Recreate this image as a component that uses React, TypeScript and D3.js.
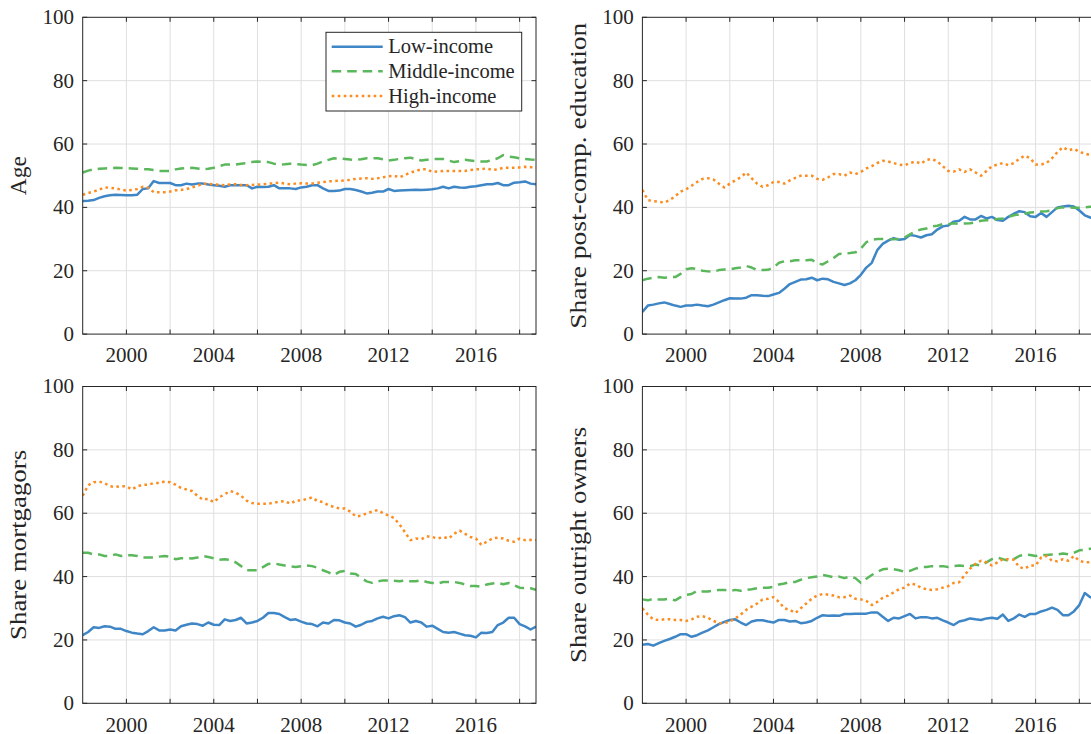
import React from 'react';
import * as d3 from 'd3';

// ---------- data (quarterly, 1998Q1 .. 2018Q4) ----------
const startYear = 1998;
const endYear = 2018.75;

const ageLow = [
  42.0, 42.1, 42.3, 43.0, 43.5, 43.8, 44.0, 43.9, 43.8, 43.8, 44.0, 45.8,
  46.0, 48.3, 47.7, 47.7, 47.7, 47.0, 47.0, 47.5, 47.2, 47.5, 47.5, 47.2,
  47.0, 46.8, 46.5, 47.0, 47.0, 47.0, 47.0, 46.0, 46.5, 46.4, 46.5, 47.0,
  46.0, 46.0, 46.0, 45.8, 46.3, 46.5, 47.0, 47.0, 46.0, 45.2, 45.2, 45.3,
  45.8, 45.8, 45.5, 45.0, 44.4, 44.6, 45.0, 45.0, 45.8, 45.2, 45.3, 45.4,
  45.5, 45.6, 45.5, 45.6, 45.7, 46.0, 46.5, 46.0, 46.5, 46.3, 46.2, 46.5,
  46.7, 47.0, 47.3, 47.3, 47.7, 47.0, 47.0, 47.8, 47.9, 48.2, 47.5, 47.3,
];
const ageMid = [
  51.0, 51.6, 52.0, 52.2, 52.3, 52.4, 52.5, 52.4, 52.4, 52.3, 52.2, 52.0,
  52.0, 51.8, 51.5, 51.5, 51.5, 52.0, 52.3, 52.4, 52.5, 52.3, 52.0, 52.2,
  52.5, 53.0, 53.5, 53.5, 53.5, 53.8, 54.0, 54.3, 54.5, 54.4, 54.3, 53.8,
  53.5, 53.6, 53.8, 53.7, 53.5, 53.4, 53.3, 53.8, 54.5, 55.0, 55.5, 55.4,
  55.3, 55.1, 55.0, 55.2, 55.5, 55.5, 55.5, 55.2, 54.8, 55.0, 55.3, 55.5,
  55.7, 55.2, 54.8, 55.0, 55.3, 55.3, 55.3, 54.8, 54.3, 54.6, 55.0, 54.8,
  54.6, 54.5, 54.5, 55.0, 55.5, 56.5, 56.0, 55.8, 55.5, 55.3, 55.1, 55.0,
];
const ageHigh = [
  44.0, 44.5, 45.0, 45.6, 46.3, 46.2, 46.0, 45.6, 45.3, 45.5, 45.8, 46.5,
  46.2, 44.8, 44.8, 44.8, 45.0, 45.4, 45.5, 45.8, 46.3, 46.8, 47.5, 47.4,
  47.3, 47.1, 47.0, 47.2, 47.3, 47.1, 47.0, 47.1, 47.2, 47.3, 47.5, 47.6,
  47.8, 47.5, 47.3, 47.5, 47.6, 47.5, 47.5, 47.8, 48.0, 48.2, 48.3, 48.4,
  48.5, 48.7, 49.0, 49.1, 49.2, 49.0, 49.2, 49.5, 49.8, 50.0, 49.5, 50.2,
  51.0, 51.5, 52.0, 52.0, 51.2, 51.3, 51.5, 51.5, 51.5, 51.5, 51.5, 51.8,
  52.0, 52.1, 52.3, 51.8, 52.0, 52.5, 52.5, 52.5, 52.6, 52.8, 52.7, 52.7,
];

const eduLow = [
  7.0, 9.0, 9.3, 9.7, 10.0, 9.5, 9.0, 8.6, 9.0, 9.0, 9.3, 9.0,
  8.8, 9.3, 10.0, 10.7, 11.3, 11.2, 11.2, 11.5, 12.3, 12.3, 12.1, 12.0,
  12.5, 13.0, 14.3, 15.8, 16.5, 17.2, 17.3, 17.8, 17.0, 17.5, 17.3, 16.5,
  16.0, 15.5, 16.0, 17.0, 18.7, 21.0, 22.5, 26.5, 28.5, 29.5, 30.3, 29.8,
  30.0, 31.3, 31.0, 30.5, 31.2, 31.5, 33.0, 34.0, 34.3, 35.5, 35.8, 37.0,
  36.2, 36.2, 37.3, 36.5, 37.0, 36.0, 35.8, 37.0, 38.0, 38.8, 38.5, 37.2,
  37.0, 38.2, 37.0, 38.5, 40.0, 40.3, 40.5, 40.3, 39.0, 37.5, 36.8, 36.5,
];
const eduMid = [
  17.0, 17.5, 17.8, 18.0, 17.8, 18.0, 18.0, 19.0, 20.5, 20.8, 20.5, 20.0,
  19.8, 19.7, 20.2, 20.4, 20.4, 20.8, 21.0, 21.5, 21.0, 20.2, 20.2, 20.3,
  21.0, 22.5, 23.0, 23.0, 23.3, 23.3, 23.3, 23.5, 22.3, 22.0, 23.0, 24.0,
  25.3, 25.5, 25.6, 25.8, 27.0, 29.0, 29.8, 30.0, 30.0, 30.0, 29.9, 30.0,
  30.5, 31.5, 32.5, 33.0, 33.3, 34.0, 34.2, 34.7, 34.7, 35.0, 34.8, 34.9,
  35.0, 35.3, 35.8, 35.9, 36.0, 36.3, 36.5, 37.0, 37.5, 37.8, 38.0, 38.4,
  38.5, 38.7, 38.8, 39.0, 39.8, 40.0, 40.0, 39.9, 39.9, 40.0, 40.2, 40.2,
];
const eduHigh = [
  45.5, 42.3, 42.0, 41.8, 41.5, 42.3, 43.5, 45.0, 45.7, 46.8, 48.0, 49.0,
  49.2, 48.8, 47.5, 46.3, 47.5, 48.5, 49.5, 51.0, 49.2, 47.5, 46.5, 47.0,
  48.0, 48.0, 47.5, 48.5, 49.3, 50.0, 50.0, 50.0, 49.0, 48.7, 49.5, 50.5,
  50.5, 50.0, 51.0, 50.5, 51.2, 52.3, 53.0, 54.0, 54.7, 54.5, 54.0, 53.5,
  53.3, 54.0, 54.5, 53.8, 55.0, 55.3, 54.5, 53.0, 51.5, 51.3, 52.0, 51.2,
  52.0, 51.0, 50.0, 51.5, 53.0, 53.5, 54.0, 53.3, 54.0, 55.3, 56.3, 55.5,
  53.5, 53.5, 54.0, 55.5, 57.5, 59.0, 58.0, 58.5, 57.5, 57.0, 56.5, 56.0,
];

const mortLow = [
  21.5, 22.5, 24.0, 23.8, 24.3, 24.2, 23.5, 23.5, 22.8, 22.3, 22.0, 21.8,
  22.8, 24.0, 23.0, 23.0, 23.3, 23.0, 24.3, 24.8, 25.2, 25.0, 24.5, 25.5,
  24.8, 24.7, 26.5, 26.0, 26.3, 27.0, 25.2, 25.5, 26.0, 27.0, 28.5, 28.5,
  28.2, 27.2, 26.3, 26.5, 25.8, 25.2, 25.0, 24.3, 25.5, 25.2, 26.3, 26.2,
  25.5, 25.2, 24.2, 24.8, 25.7, 26.0, 26.8, 27.3, 26.8, 27.5, 27.8, 27.2,
  25.5, 26.0, 25.5, 24.2, 24.5, 23.5, 22.5, 22.3, 22.5, 22.0, 21.5, 21.3,
  20.8, 22.3, 22.2, 22.5, 24.7, 25.5, 27.0, 27.0, 25.0, 24.3, 23.3, 24.2,
];
const mortMid = [
  47.5, 47.5, 47.0, 47.0, 46.5, 46.5, 47.0, 46.5, 46.8, 46.7, 46.5, 46.0,
  46.0, 46.0, 46.3, 46.5, 46.3, 45.5, 45.8, 45.8, 45.7, 46.0, 46.5, 46.2,
  45.8, 45.3, 45.5, 45.3, 44.5, 43.3, 42.0, 42.0, 42.0, 43.0, 44.0, 44.2,
  43.8, 43.5, 43.2, 43.0, 43.3, 43.5, 43.3, 42.8, 42.0, 41.3, 40.5, 41.5,
  41.8, 41.0, 40.8, 39.5, 38.5, 38.0, 38.5, 38.8, 38.8, 38.7, 38.5, 38.8,
  38.5, 38.5, 38.8, 38.3, 38.0, 37.8, 38.3, 38.3, 38.3, 38.0, 37.5, 37.0,
  37.0, 36.8, 37.5, 37.8, 38.0, 37.6, 38.0, 37.3, 36.5, 36.4, 36.3, 35.8,
];
const mortHigh = [
  65.5, 68.8, 69.8, 70.0, 69.5, 68.5, 68.3, 68.5, 68.5, 67.5, 68.5, 69.0,
  69.0, 69.5, 69.5, 70.0, 69.8, 69.0, 68.0, 67.5, 67.0, 65.5, 64.3, 64.5,
  63.5, 65.0, 66.0, 67.0, 66.5, 65.5, 64.0, 63.2, 63.0, 63.0, 63.0, 63.3,
  63.7, 63.8, 63.0, 64.0, 64.0, 64.5, 65.0, 63.8, 63.5, 62.5, 62.0, 61.5,
  61.5, 60.5, 59.0, 59.2, 60.0, 60.5, 61.0, 60.0, 59.3, 58.5, 56.5, 54.0,
  51.5, 52.0, 51.8, 52.7, 52.5, 52.0, 52.5, 52.0, 53.5, 54.5, 53.5, 52.5,
  52.0, 50.0, 51.0, 52.0, 52.3, 52.0, 51.3, 51.0, 52.0, 51.5, 51.6, 51.5,
];

const ownLow = [
  18.5, 18.7, 18.2, 19.0, 19.7, 20.3, 21.0, 21.8, 21.8, 21.0, 21.5, 22.3,
  23.0, 24.0, 25.0, 25.7, 26.3, 26.5, 25.5, 24.7, 25.8, 26.2, 26.2, 25.8,
  25.5, 26.3, 26.3, 25.8, 26.0, 25.3, 25.5, 26.0, 27.0, 27.8, 27.6, 27.7,
  27.6, 28.2, 28.2, 28.3, 28.3, 28.3, 28.7, 28.7, 27.3, 26.0, 27.0, 26.8,
  27.5, 28.2, 26.8, 27.2, 27.2, 26.8, 27.0, 26.2, 25.5, 24.7, 25.8, 26.2,
  26.8, 26.5, 26.3, 26.8, 27.0, 26.7, 28.0, 26.0, 26.8, 28.0, 27.3, 28.2,
  28.2, 29.0, 29.5, 30.2, 29.5, 27.8, 27.8, 29.0, 31.0, 34.8, 33.5, 33.0,
];
const ownMid = [
  32.8, 32.5, 33.0, 32.8, 32.8, 33.0, 32.5, 33.5, 34.2, 34.5, 35.5, 35.3,
  35.3, 35.5, 35.8, 35.8, 35.5, 35.8, 35.5, 35.8, 36.0, 36.3, 36.5, 36.5,
  36.8, 37.5, 37.8, 38.3, 38.3, 39.0, 39.5, 39.8, 40.0, 40.5, 40.2, 39.8,
  40.0, 39.5, 40.0, 39.5, 38.0, 39.3, 40.5, 41.5, 42.3, 42.5, 42.3, 42.0,
  41.5, 41.8, 42.5, 43.0, 43.0, 43.3, 43.3, 43.3, 43.0, 43.3, 43.5, 43.3,
  43.3, 43.8, 43.5, 44.5, 45.5, 46.0, 45.5, 45.0, 45.5, 46.5, 47.0, 46.8,
  46.5, 46.8, 46.8, 47.0, 47.0, 47.3, 47.0, 47.5, 48.3, 48.5, 48.8, 48.8,
];
const ownHigh = [
  30.0, 28.0, 26.5, 26.3, 26.5, 26.5, 26.3, 26.3, 26.0, 26.5, 27.3, 27.5,
  27.0, 26.0, 25.3, 25.3, 25.8, 26.8, 28.0, 29.5, 30.5, 31.5, 32.8, 33.0,
  33.5, 32.0, 30.0, 29.5, 28.5, 30.0, 31.5, 33.0, 34.0, 34.5, 34.3, 34.0,
  33.5, 33.5, 34.0, 33.0, 32.8, 32.3, 31.0, 32.0, 33.3, 34.0, 35.0, 36.0,
  36.5, 37.8, 37.5, 36.5, 36.0, 35.8, 36.0, 36.5, 37.0, 38.0, 38.2, 40.5,
  42.5, 44.0, 45.0, 44.5, 43.5, 44.5, 45.5, 45.5, 45.3, 43.0, 42.5, 43.5,
  43.5, 46.0, 46.5, 45.0, 44.8, 45.5, 45.0, 46.5, 45.0, 44.5, 44.5, 44.3,
];

const seriesNames = ['Low-income', 'Middle-income', 'High-income'];
const yLabels = ['Age', 'Share post-comp. education', 'Share mortgagors', 'Share outright owners'];
const xTickYears = [2000, 2002, 2004, 2006, 2008, 2010, 2012, 2014, 2016, 2018];
const xTickLabelYears = [2000, 2004, 2008, 2012, 2016];
const yTickValues = [0, 20, 40, 60, 80, 100];

// ---------- styling ----------
const COLORS = ['#3f86c6', '#5bb75b', '#fd8c1f'];
const DASHES = [null, '9.5,6', '2.6,3.4'];
const AXIS = '#262626';
const GRID = '#dfdfdf';
const FONT = "'Liberation Serif', 'DejaVu Serif', serif";

const colX = [82.7, 642.4];
const rowY = [17.3, 386.5];
const PW = 453.3;
const PH = 316.8;
const yLabelLengths = [39, 306, 190, 236];

const panels = [
  { data: [ageLow, ageMid, ageHigh], col: 0, row: 0, legend: true },
  { data: [eduLow, eduMid, eduHigh], col: 1, row: 0, legend: false },
  { data: [mortLow, mortMid, mortHigh], col: 0, row: 1, legend: false },
  { data: [ownLow, ownMid, ownHigh], col: 1, row: 1, legend: false },
];

function Panel({ p, idx }: { p: any; idx: number }) {
  const x0 = colX[p.col];
  const y0 = rowY[p.row];
  const x = d3.scaleLinear().domain([startYear, endYear]).range([0, PW]);
  const y = d3.scaleLinear().domain([0, 100]).range([PH, 0]);
  const line = d3
    .line<number>()
    .x((_, i) => x(startYear + i / 4))
    .y((d) => y(d));
  const tl = 4.5;
  const clipId = `clip-${idx}`;
  const txt = { fill: AXIS, style: { fontFamily: FONT } };
  return (
    <g transform={`translate(${x0},${y0})`}>
      <defs>
        <clipPath id={clipId}>
          <rect x={0} y={0} width={PW} height={PH} />
        </clipPath>
      </defs>
      {xTickYears.map((t) => (
        <line key={'gx' + t} x1={x(t)} x2={x(t)} y1={0} y2={PH} stroke={GRID} strokeWidth={1} />
      ))}
      {yTickValues.slice(1, -1).map((v) => (
        <line key={'gy' + v} x1={0} x2={PW} y1={y(v)} y2={y(v)} stroke={GRID} strokeWidth={1} />
      ))}
      <g clipPath={`url(#${clipId})`}>
        {p.data.map((s: number[], k: number) => (
          <path
            key={k}
            d={line(s) || ''}
            fill="none"
            stroke={COLORS[k]}
            strokeWidth={2.5}
            strokeDasharray={DASHES[k] || undefined}
            strokeLinejoin="round"
          />
        ))}
      </g>
      <rect x={0} y={0} width={PW} height={PH} fill="none" stroke={AXIS} strokeWidth={1} />
      {xTickYears.map((t) => (
        <g key={'tx' + t}>
          <line x1={x(t)} x2={x(t)} y1={PH} y2={PH - tl} stroke={AXIS} />
          <line x1={x(t)} x2={x(t)} y1={0} y2={tl} stroke={AXIS} />
        </g>
      ))}
      {yTickValues.map((v) => (
        <g key={'ty' + v}>
          <line x1={0} x2={tl} y1={y(v)} y2={y(v)} stroke={AXIS} />
          <line x1={PW} x2={PW - tl} y1={y(v)} y2={y(v)} stroke={AXIS} />
        </g>
      ))}
      {xTickLabelYears.map((t) => (
        <text key={'lx' + t} x={x(t)} y={PH + 28.3} textAnchor="middle" fontSize={21} {...txt}>
          {t}
        </text>
      ))}
      {yTickValues.map((v) => (
        <text key={'ly' + v} x={-8.7} y={y(v)} dy="0.33em" textAnchor="end" fontSize={21} {...txt}>
          {v}
        </text>
      ))}
      <text
        transform={`translate(${-56.2},${PH / 2}) rotate(-90)`}
        textAnchor="middle"
        fontSize={23.5}
        textLength={yLabelLengths[idx]}
        lengthAdjust="spacingAndGlyphs"
        {...txt}
      >
        {yLabels[idx]}
      </text>
      {p.legend && (
        <g transform={`translate(${326 - x0},${32.3 - y0})`}>
          <rect x={0} y={0} width={195.7} height={78.7} fill="#fff" stroke={AXIS} strokeWidth={1} />
          {seriesNames.map((n, k) => (
            <g key={n} transform={`translate(0,${14.4 + k * 24.6})`}>
              <line
                x1={5.7}
                x2={56.7}
                y1={0}
                y2={0}
                stroke={COLORS[k]}
                strokeWidth={2.5}
                strokeDasharray={DASHES[k] || undefined}
              />
              <text x={62.3} y={0} dy="0.33em" fontSize={20.5} {...txt}>
                {n}
              </text>
            </g>
          ))}
        </g>
      )}
    </g>
  );
}

export default function App() {
  return (
    <svg
      width={1091}
      height={734}
      viewBox="0 0 1091 734"
      style={{ position: 'absolute', left: 0, top: 0, background: '#fff', display: 'block' }}
    >
      <rect width={1091} height={734} fill="#fff" />
      {panels.map((p, i) => (
        <Panel key={i} p={p} idx={i} />
      ))}
    </svg>
  );
}
